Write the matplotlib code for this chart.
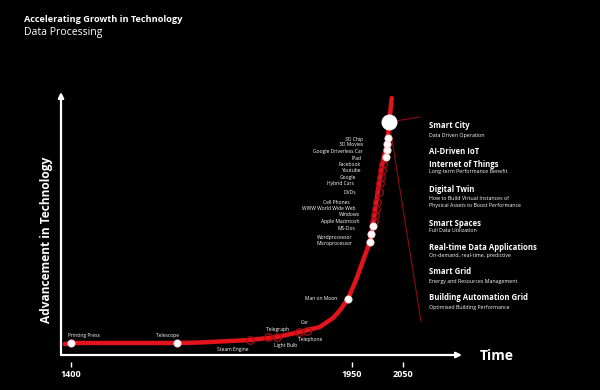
import numpy as np
import matplotlib.pyplot as plt

plt.rcParams['font.family'] = ['Open Sans', 'DejaVu Sans']

# curve (year, advancement level)
curve_year = [1388, 1400, 1608, 1653, 1750, 1803, 1848, 1887, 1913, 1927, 1942, 1958,
              1985, 1991, 2001, 2011, 2019, 2023, 2028]
curve_level = [11, 12, 12, 12.5, 15, 18, 23, 28, 37, 45, 56, 75,
               113, 129, 165, 195, 212, 233, 257]

# milestones on the curve
milestones = ['Printing Press', 'Telescope', 'Steam Engine', 'Telegraph', 'Light Bulb',
              'Car', 'Telephone', 'Man on Moon', 'Microprocessor', 'Wordprocessor',
              'MS-Dos', 'Apple Macintosh', 'Windows', 'WWW World Wide Web', 'Cell Phones',
              'DVDs', 'Hybrid Cars', 'Google', 'Youtube', 'Facebook', 'iPad',
              'Google Driverless Car', '3D Movies', '3D Chip']
milestone_year = [1400, 1607, 1750, 1786, 1803, 1846, 1862, 1942, 1985, 1987,
                  1991, 1994, 1996, 1998, 1999, 2002, 2005, 2007, 2009, 2011, 2017,
                  2019, 2019, 2021]
milestone_level = [12, 12, 15, 18, 18, 23, 24, 56, 113, 121,
                   129, 134, 140, 146, 153, 163, 172, 178, 185, 191, 198,
                   205, 211, 217]
milestone_filled = [True, True, False, False, False, False, False, True, True, True,
                    True, False, False, False, False, False, False, False, False, False, True,
                    True, True, True]

# the present / future point
now_year, now_level = 2023, 233

future_titles = ['Smart City', 'AI-Driven IoT\nInternet of Things', 'Digital Twin',
                 'Smart Spaces', 'Real-time Data Applications', 'Smart Grid',
                 'Building Automation Grid']
future_notes = ['Data Driven Operation', 'Long-term Performance Benefit',
                'How to Build Virtual Instances of\nPhysical Assets to Boost Performance',
                'Full Data Utilization', 'On-demand, real-time, predictive',
                'Energy and Resources Management', 'Optimised Building Performance']

tick_years = [1400, 1950, 2050]

# layout: label offsets in pixels and alignment
label_offsets = [(-3, 8, 'left'), (-9, 8, 'center'), (-17, -9, 'center'), (9, 8, 'center'),
                 (9, -9, 'center'), (6, 10, 'center'), (3, -9, 'center'), (-11, 0, 'right'),
                 (-17, -2, 'right'), (-18, -3, 'right'), (-18, -3, 'right'), (-15, 0, 'right'),
                 (-15, 0, 'right'), (-21, 0, 'right'), (-27, 0, 'right'), (-22, 0, 'right'),
                 (-26, 0, 'right'), (-25, 0, 'right'), (-21, 0, 'right'), (-22, 0, 'right'),
                 (-25, -1, 'right'), (-25, -2, 'right'), (-24, -1, 'right'), (-25, -1, 'right')]
future_title_y = [126, 158, 189, 223, 247, 272, 298]
future_note_y = [136, 172, 202, 231, 256, 281, 307]

red = '#e3121b'
dark_red = '#8c0b12'

fig = plt.figure(figsize=(6, 3.9), dpi=100, facecolor='black')
ax = fig.add_axes([61 / 600, 35 / 390, 401 / 600, 263 / 390])
ax.set_facecolor('black')
ax.set_xlim(1400 - 10 / 0.5108, 1400 + 391 / 0.5108)
ax.set_ylim(0, 263)

# axes arrows
for end in [(1, 0), (0, 1)]:
    ax.annotate('', xy=end, xytext=(0, 0), xycoords='axes fraction',
                arrowprops=dict(arrowstyle='-|>', color='white', lw=1.6,
                                mutation_scale=8, shrinkA=0, shrinkB=0))
for s in ax.spines.values():
    s.set_color('none')
ax.spines['bottom'].set_position(('outward', 5))
ax.set_xticks(tick_years)
ax.set_xticklabels([str(t) for t in tick_years], color='white', fontsize=6.5,
                   fontweight='bold')
ax.tick_params(axis='x', direction='out', length=3.6, width=1, color='white', pad=2.5)
ax.set_yticks([])

# bracket lines to the future list
ax.plot([now_year, 2083], [now_level, 238], color=dark_red, lw=0.8, clip_on=False)
ax.plot([now_year, 2085], [now_level, 34], color=dark_red, lw=0.8, clip_on=False)

# growth curve
ax.plot(curve_year, curve_level, color=red, lw=3.2, solid_joinstyle='round',
        solid_capstyle='round', clip_on=False, zorder=3)

for name, yr, lv, filled, (dx, dy, ha) in zip(milestones, milestone_year, milestone_level,
                                             milestone_filled, label_offsets):
    if filled:
        ax.plot(yr, lv, 'o', ms=5.2, mfc='white', mec='#ffd0d0', mew=0.6, zorder=5,
                clip_on=False)
    else:
        ax.plot(yr, lv, 'o', ms=5.4, mfc='none', mec='#a80d15', mew=0.9, zorder=4,
                clip_on=False)
    ax.annotate(name, (yr, lv), xytext=(dx, dy), textcoords='offset pixels',
                ha=ha, va='center', color='white', fontsize=3.6)

ax.plot(now_year, now_level, 'o', ms=10.5, mfc='white', mec='white', zorder=6,
        clip_on=False)

# right side list
for title, note, ty, ny in zip(future_titles, future_notes, future_title_y, future_note_y):
    fig.text(429 / 600, 1 - ty / 390, title, color='white', fontsize=5.6, fontweight='bold',
             va='center', ha='left', linespacing=1.7)
    fig.text(429 / 600, 1 - ny / 390, note, color='white', fontsize=3.8,
             va='center', ha='left', linespacing=1.6)

fig.text(24 / 600, 1 - 19 / 390, 'Accelerating Growth in Technology', color='white',
         fontsize=6.6, fontweight='bold', va='center')
fig.text(24 / 600, 1 - 32 / 390, 'Data Processing', color='white', fontsize=7.6, va='center')
fig.text(47 / 600, 1 - 240 / 390, 'Advancement in Technology', color='white', fontsize=8.6,
         fontweight='bold', rotation=90, va='center', ha='center')
fig.text(480 / 600, 1 - 356 / 390, 'Time', color='white', fontsize=10, fontweight='bold',
         va='center', ha='left')

fig.savefig('out.png', dpi=100, facecolor='black')
